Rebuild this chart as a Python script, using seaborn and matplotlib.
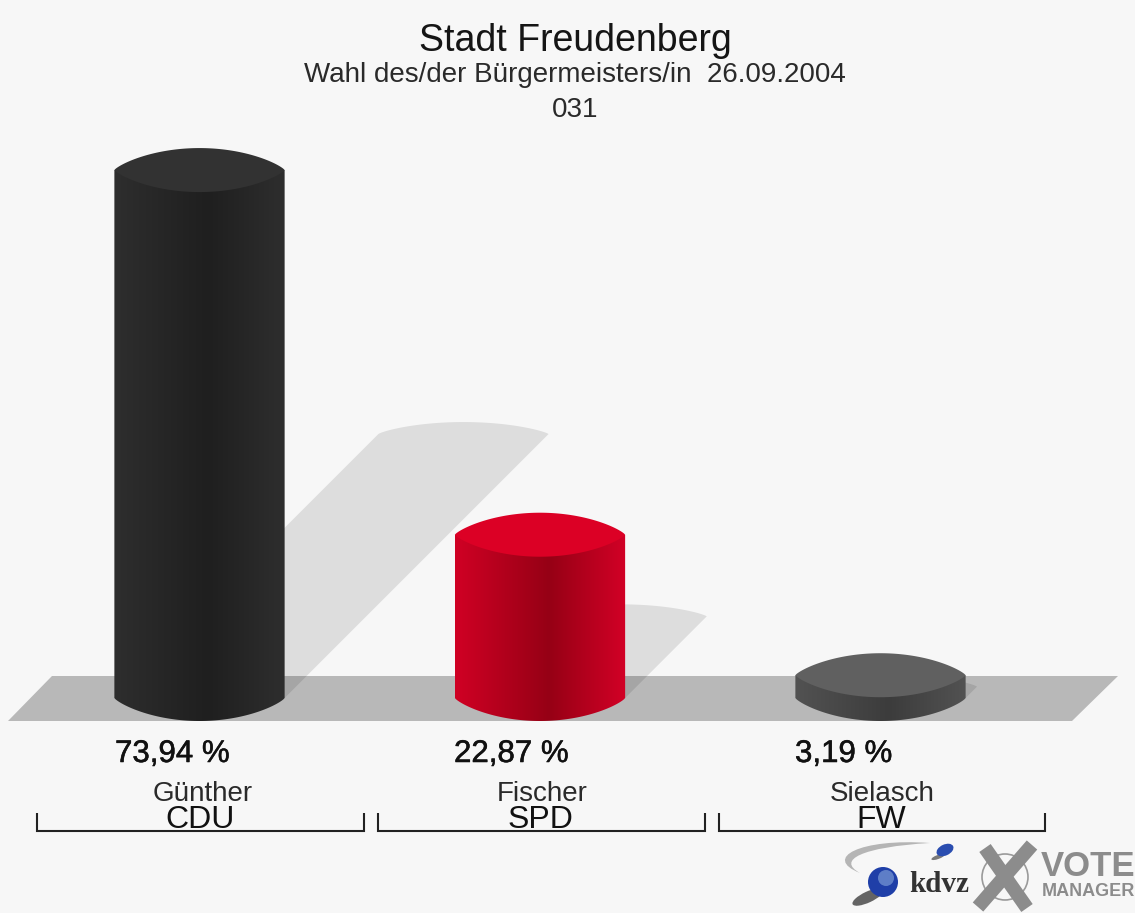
import numpy as np
import pandas as pd
import matplotlib
matplotlib.use("Agg")
import matplotlib.pyplot as plt
import matplotlib.patheffects as pe
import seaborn as sns
from matplotlib.colors import LinearSegmentedColormap
from matplotlib.patches import Ellipse, Polygon, Circle, PathPatch
from matplotlib.path import Path

# ---- data ----
candidates = ["Günther", "Fischer", "Sielasch"]
parties = ["CDU", "SPD", "FW"]
shares = [73.94, 22.87, 3.19]
share_labels = ["73,94 %", "22,87 %", "3,19 %"]
title_lines = ["Stadt Freudenberg", "Wahl des/der Bürgermeisters/in  26.09.2004", "031"]
side_stops = [
    ["#2e2e2e", "#1f1f1f", "#2e2e2e"],
    ["#d00024", "#960015", "#d20026"],
    ["#525252", "#3c3c3c", "#525252"],
]
top_colors = ["#323232", "#dc0025", "#606060"]

BG = "#f7f7f7"
W, H = 1135, 913
PX_PER_PCT = 7.14
PX_PER_CAT = 340.5
X0_PX, BASE_PX = 199.5, 698.0
CAP_PX = 22.0
LENS = 0.8   # profile exponent of the rounded ends
sns.set_theme(style="white")
plt.rcParams["font.family"] = ["Liberation Sans", "DejaVu Sans"]

fig = plt.figure(figsize=(W / 100, H / 100), dpi=100, facecolor=BG)
ax = fig.add_axes([0, 0, 1, 1], facecolor="none", zorder=2)
bg = fig.add_axes([0, 0, 1, 1], facecolor=BG, zorder=1)
px = fig.add_axes([0, 0, 1, 1], facecolor="none", zorder=3)
for a in (bg, px):
    a.set_xlim(0, W)
    a.set_ylim(H, 0)
    a.axis("off")

# floor
bg.add_patch(Polygon([(8, 721), (52, 676), (1118, 676), (1072, 721)], closed=True,
                     fc="#b8b8b8", ec="none"))

df = pd.DataFrame({"party": parties, "share": shares})
sns.barplot(data=df, x="party", y="share", hue="party", palette=top_colors, width=0.5,
            legend=False, ax=ax, saturation=1, zorder=3)
bars = list(ax.patches)

cap_h = CAP_PX / PX_PER_PCT
slope = PX_PER_PCT / PX_PER_CAT  # shear: 1 px across per 1 px up
u = np.linspace(-1, 1, 161)
lens = (1 - u ** 2) ** LENS
for bar, stops, top in zip(bars, side_stops, top_colors):
    x, w, v = bar.get_x(), bar.get_width(), bar.get_height()
    cx = x + w / 2
    # shadow (sheared half-height copy)
    sh = v / 2
    off = sh * slope
    arc = np.column_stack([cx + off + u * w / 2, sh + (12 / PX_PER_PCT) * lens])
    shadow = np.vstack([[x, 0], arc, [x + w, 0]])
    ax.add_patch(Polygon(shadow, closed=True, fc="black", alpha=0.1, ec="none", zorder=2))
    # body with horizontal shading, rounded bottom
    bottom = np.column_stack([cx + u * w / 2, -(CAP_PX + 1) / PX_PER_PCT * lens])
    outline = np.vstack([[x, v], bottom, [x + w, v]])
    clip = Polygon(outline, closed=True, transform=ax.transData, fc="none", ec="none")
    ax.add_patch(clip)
    cmap = LinearSegmentedColormap.from_list("c", [(0, stops[0]), (0.55, stops[1]), (1, stops[2])])
    im = ax.imshow(np.linspace(0, 1, 256)[None, :], extent=[x, x + w, -5, v], cmap=cmap,
                   aspect="auto", zorder=4, interpolation="bilinear")
    im.set_clip_path(clip)
    bar.set_visible(False)
    cap = np.vstack([
        np.column_stack([cx + u * w / 2, v + cap_h * lens]),
        np.column_stack([cx - u * w / 2, v - cap_h * lens]),
    ])
    ax.add_patch(Polygon(cap, closed=True, fc=top, ec="none", zorder=5))

ax.set_xlim(-X0_PX / PX_PER_CAT, (W - X0_PX) / PX_PER_CAT)
ax.set_ylim((BASE_PX - H) / PX_PER_PCT, BASE_PX / PX_PER_PCT)
ax.axis("off")


def stroke(width):
    return [pe.withStroke(linewidth=width, foreground="#1a1a1a")]


# titles
for txt, y, fs, col in zip(title_lines, [41, 75, 110], [27, 20, 20], ["#151515", "#2a2a2a", "#2a2a2a"]):
    px.text(575, y, txt, ha="center", va="center", fontsize=fs, color=col)

# labels and brackets
left_px = [115, 454, 795]
name_px = [203, 542, 882]
party_px = [200, 540, 881]
br_l = [37, 378, 719]
br_r = [364, 705, 1045]
for i in range(3):
    px.text(left_px[i], 754, share_labels[i], ha="left", va="center", fontsize=22.5,
            color="#111111", path_effects=stroke(0.4))
    px.text(name_px[i], 794, candidates[i], ha="center", va="center", fontsize=20, color="#2a2a2a")
    px.text(party_px[i], 820, parties[i], ha="center", va="center", fontsize=23, color="#111111")
    px.plot([br_l[i], br_l[i], br_r[i], br_r[i]], [813, 831, 831, 813], color="#222222", lw=1.5,
            solid_joinstyle="miter", solid_capstyle="butt")

# logos
sw = Path([(930, 843), (860, 838), (822, 858), (860, 873), (836, 860), (862, 847), (930, 843)],
          [Path.MOVETO, Path.CURVE4, Path.CURVE4, Path.CURVE4, Path.CURVE4, Path.CURVE4, Path.CURVE4])
px.add_patch(PathPatch(sw, fc="#b5b5b5", ec="none"))
px.add_patch(Ellipse((868, 897), 34, 11, angle=-25, fc="#333333", ec="none", alpha=0.75))
px.add_patch(Ellipse((938, 857), 14, 4, angle=-20, fc="#444444", ec="none", alpha=0.7))
px.add_patch(Circle((883, 882), 15, fc="#1f3fa8", ec="none"))
px.add_patch(Circle((886, 878), 8, fc="#6f8fd0", ec="none", alpha=0.8))
px.add_patch(Ellipse((945, 850), 18, 11, angle=-25, fc="#2a4db0", ec="none"))
px.text(939, 885, "kdvz", ha="center", va="center", fontsize=21, fontweight="bold",
        family="Liberation Serif", color="#333333")
X_GREY = "#8c8c8c"
px.add_patch(Circle((1005, 877), 23, fc="none", ec="#9a9a9a", lw=1.2))
px.plot([985, 1027], [848, 908], color=X_GREY, lw=10, solid_capstyle="butt")
px.plot([1032, 978], [845, 907], color=X_GREY, lw=10, solid_capstyle="butt")
px.text(1088, 867, "VOTE", ha="center", va="center", fontsize=25, fontweight="bold", color=X_GREY)
px.text(1088, 891, "MANAGER", ha="center", va="center", fontsize=13, fontweight="bold", color=X_GREY)

fig.savefig("out.png", dpi=100, facecolor=BG)
